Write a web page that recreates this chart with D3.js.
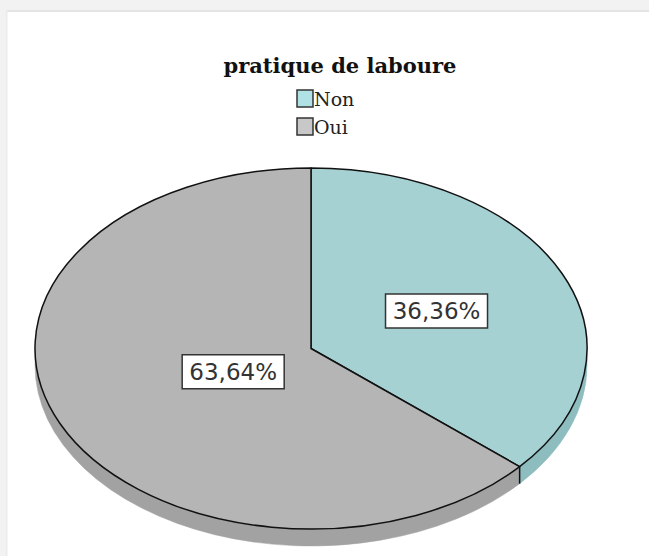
<!DOCTYPE html>
<html>
<head>
<meta charset="utf-8">
<script src="https://cdn.jsdelivr.net/npm/d3@7"></script>
<style>
  html, body { margin: 0; padding: 0; background: #fff; }
  svg { display: block; }
</style>
</head>
<body>
<svg id="chart" width="649" height="556"></svg>
<script>
// data
var categories = ["Non", "Oui"];
var percents = [36.36, 63.64];
var labels = ["36,36%", "63,64%"];
var title = "pratique de laboure";

var topColors = ["#a6d1d3", "#b5b5b5"];
var sideColors = ["#8dbdbe", "#a2a2a2"];
var legendColors = ["#b0e2e5", "#c8c8c8"];
var labelRadius = [0.5, 0.31];

var W = 649, H = 556;
var cx = 311, cy = 348.5, rx = 276, ry = 180.5, depth = 17;

var svg = d3.select("#chart");

// window frame
svg.append("rect").attr("x", 0).attr("y", 0).attr("width", W).attr("height", 11).attr("fill", "#f2f2f2");
svg.append("rect").attr("x", 0).attr("y", 0).attr("width", 6).attr("height", H).attr("fill", "#f2f2f2");
svg.append("rect").attr("x", 6).attr("y", 10).attr("width", W - 6).attr("height", 2).attr("fill", "#e4e4e4");
svg.append("rect").attr("x", 6).attr("y", 10).attr("width", 1.5).attr("height", H - 10).attr("fill", "#ebebeb");

// title
svg.append("text")
  .attr("x", 340).attr("y", 73)
  .attr("text-anchor", "middle")
  .style("font-family", "'DejaVu Serif', serif")
  .style("font-weight", "bold")
  .style("font-size", "21px")
  .attr("fill", "#111")
  .text(title);

// legend
var legend = svg.append("g").selectAll("g")
  .data(categories)
  .enter().append("g")
  .attr("transform", function(d, i) { return "translate(297," + (90 + i * 28) + ")"; });
legend.append("rect")
  .attr("width", 16).attr("height", 17)
  .attr("fill", function(d, i) { return legendColors[i]; })
  .attr("stroke", "#333").attr("stroke-width", 1.5);
legend.append("text")
  .attr("x", 17).attr("y", 16)
  .style("font-family", "'DejaVu Serif', serif")
  .style("font-size", "19px")
  .attr("fill", "#222")
  .text(function(d) { return d; });

// pie
var pie = d3.pie().sort(null).value(function(d) { return d; });
var arcs = pie(percents);

function pt(a, dy) {
  return [cx + rx * Math.sin(a), cy - ry * Math.cos(a) + (dy || 0)];
}

// side faces (front half only: angles pi/2 .. 3pi/2)
var sides = svg.append("g");
arcs.forEach(function(d, i) {
  var a0 = Math.max(d.startAngle, Math.PI / 2);
  var a1 = Math.min(d.endAngle, 3 * Math.PI / 2);
  if (a1 <= a0) return;
  var p0 = pt(a0), p1 = pt(a1), q0 = pt(a0, depth), q1 = pt(a1, depth);
  var large = (a1 - a0) > Math.PI ? 1 : 0;
  var path = "M" + p0 + " A" + rx + "," + ry + " 0 " + large + " 1 " + p1 +
    " L" + q1 + " A" + rx + "," + ry + " 0 " + large + " 0 " + q0 + " Z";
  sides.append("path")
    .attr("d", path)
    .attr("fill", sideColors[i])
    .attr("stroke", sideColors[i]).attr("stroke-width", 0.5);
});
// vertical edge at the split between slices
arcs.forEach(function(d) {
  var a = d.endAngle;
  if (a > Math.PI / 2 && a < 3 * Math.PI / 2) {
    var p = pt(a), q = pt(a, depth);
    sides.append("line")
      .attr("x1", p[0]).attr("y1", p[1]).attr("x2", q[0]).attr("y2", q[1])
      .attr("stroke", "#111").attr("stroke-width", 1.5);
  }
});

// top face
var arc = d3.arc().innerRadius(0).outerRadius(rx);
var topG = svg.append("g")
  .attr("transform", "translate(" + cx + "," + cy + ") scale(1," + (ry / rx) + ")");
topG.selectAll("path")
  .data(arcs)
  .enter().append("path")
  .attr("d", arc)
  .attr("fill", function(d, i) { return topColors[i]; })
  .attr("stroke", "#111")
  .attr("stroke-width", 1.5)
  .attr("vector-effect", "non-scaling-stroke")
  .attr("stroke-linejoin", "round");

// value labels
var lbl = svg.append("g").selectAll("g")
  .data(arcs)
  .enter().append("g")
  .attr("transform", function(d, i) {
    var a = (d.startAngle + d.endAngle) / 2;
    return "translate(" + (cx + labelRadius[i] * rx * Math.sin(a)) + "," +
      (cy - labelRadius[i] * ry * Math.cos(a)) + ")";
  });
lbl.append("rect")
  .attr("x", -51).attr("y", -17).attr("width", 102).attr("height", 34)
  .attr("fill", "#fff").attr("stroke", "#333").attr("stroke-width", 1.5);
lbl.append("text")
  .attr("text-anchor", "middle").attr("y", 8)
  .style("font-family", "'DejaVu Sans', sans-serif")
  .style("font-size", "23px")
  .attr("fill", "#333")
  .text(function(d, i) { return labels[i]; });
</script>
</body>
</html>
